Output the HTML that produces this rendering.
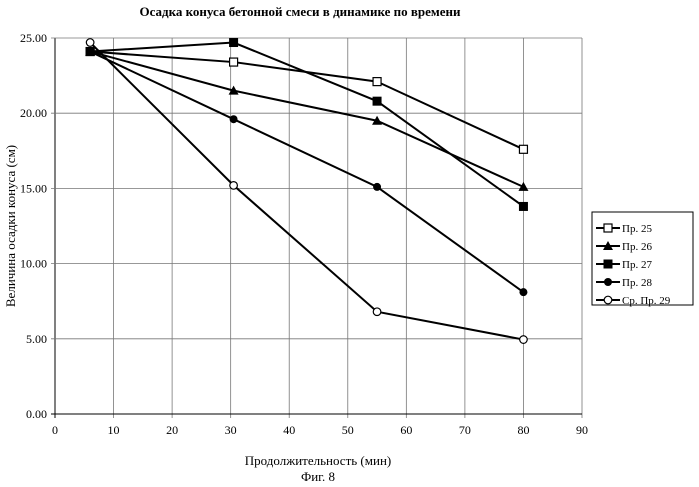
<!DOCTYPE html>
<html><head><meta charset="utf-8"><style>
body{margin:0;background:#fff;}
svg{display:block;font-family:"Liberation Serif","Noto Serif CJK SC",serif;}
</style></head><body>
<svg id="c" width="699" height="487">
<text x="300" y="16" text-anchor="middle" font-weight="bold" font-size="13">Осадка конуса бетонной смеси в динамике по времени</text>
<text transform="translate(15,226) rotate(-90)" text-anchor="middle" font-size="13">Величина осадки конуса (см)</text>
<text x="318" y="465" text-anchor="middle" font-size="13">Продолжительность (мин)</text>
<text x="318" y="481" text-anchor="middle" font-size="13">Фиг. 8</text>
<g id="grid"></g><g id="series"></g>
<g>
<rect x="592" y="212" width="101" height="93" fill="#fff" stroke="#000" stroke-width="1"/>
<g id="leg"></g>
</g>
</svg>
<script>
const xTicks=[0,10,20,30,40,50,60,70,80,90];
const yTicks=[0,5,10,15,20,25];
const yLabels=["0.00","5.00","10.00","15.00","20.00","25.00"];
const xValues=[6,30.5,55,80];
const names=["Пр. 25","Пр. 26","Пр. 27","Пр. 28","Ср. Пр. 29"];
const markers=["sq-open","tri","sq","circ","circ-open"];
const s25=[24.1,23.4,22.1,17.6];
const s26=[24.1,21.5,19.5,15.1];
const s27=[24.1,24.7,20.8,13.8];
const s28=[24.1,19.6,15.1,8.1];
const s29=[24.7,15.2,6.8,4.95];
const series=[s25,s26,s27,s28,s29];
const NS="http://www.w3.org/2000/svg";
const X0=55,X1=582,Y0=414,Y1=38;
const xs=v=>X0+(v/90)*(X1-X0), ys=v=>Y0-(v/25)*(Y0-Y1);
function el(t,a,p){const e=document.createElementNS(NS,t);for(const k in a)e.setAttribute(k,a[k]);p.appendChild(e);return e;}
const g=document.getElementById('grid');
xTicks.forEach(t=>{const l=el('line',{x1:xs(t),x2:xs(t),y1:Y1,y2:Y0+4,stroke:t===0?'#000':'#777','stroke-width':t===0?1:0.8},g);

const tx=el('text',{x:xs(t),y:Y0+20,'text-anchor':'middle','font-size':'12'},g);tx.textContent=t;
});
yTicks.forEach((t,i)=>{const l=el('line',{x1:X0-4,x2:X1,y1:ys(t),y2:ys(t),stroke:t===0?'#000':'#777','stroke-width':t===0?1:0.8},g);

const tx=el('text',{x:X0-8,y:ys(t)+4,'text-anchor':'end','font-size':'12'},g);tx.textContent=yLabels[i];
});
function marker(type,x,y,p){
 let m;
 if(type==='sq-open')m=el('rect',{x:x-4,y:y-4,width:8,height:8,fill:'#fff',stroke:'#000','stroke-width':1.2},p);
 else if(type==='sq')m=el('rect',{x:x-4.5,y:y-4.5,width:9,height:9,fill:'#000'},p);
 else if(type==='tri')m=el('polygon',{points:`${x},${y-5} ${x-5},${y+4} ${x+5},${y+4}`,fill:'#000'},p);
 else if(type==='circ')m=el('circle',{cx:x,cy:y,r:4,fill:'#000'},p);
 else m=el('circle',{cx:x,cy:y,r:3.8,fill:'#fff',stroke:'#000','stroke-width':1.2},p);
 return m;}
const sg=document.getElementById('series');
series.forEach((s,i)=>{
 const gg=el('g',{},sg);
 
 const pl=el('polyline',{points:s.map((v,j)=>xs(xValues[j])+','+ys(v)).join(' '),fill:'none',stroke:'#000','stroke-width':2},gg);
 
 s.forEach((v,j)=>{const m=marker(markers[i],xs(xValues[j]),ys(v),gg);
 });
});
const lg=document.getElementById('leg');
names.forEach((n,i)=>{const y=228+i*18;
 const e=el('g',{},lg);
 
 el('line',{x1:596,x2:620,y1:y,y2:y,stroke:'#000','stroke-width':2},e);
 marker(markers[i],608,y,e);
 const t=el('text',{x:622,y:y+4,'font-size':'11'},e);t.textContent=n;});
</script>
</body></html>
